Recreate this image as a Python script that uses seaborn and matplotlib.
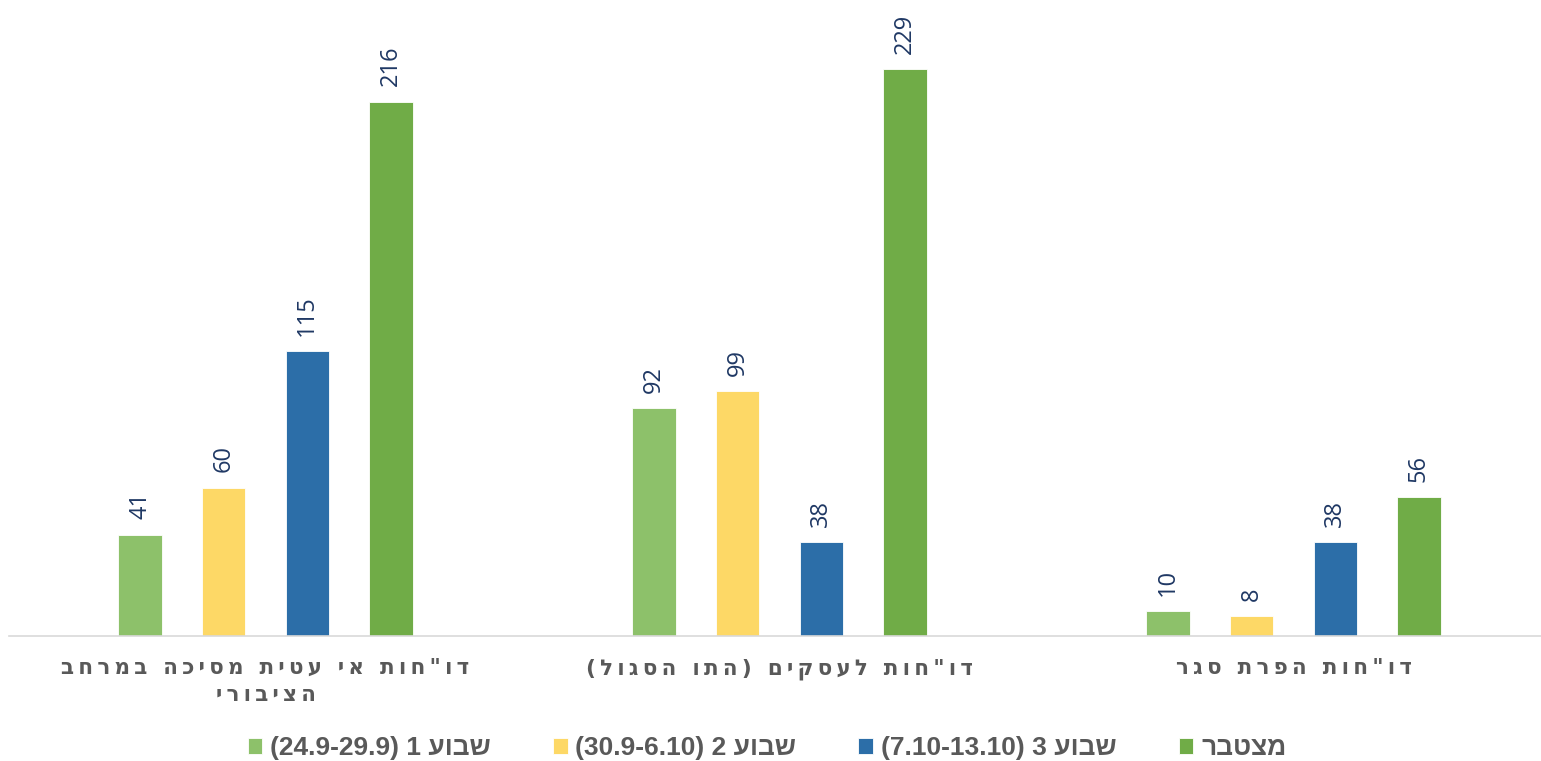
import re
import matplotlib
matplotlib.use('Agg')
import matplotlib.pyplot as plt
import pandas as pd
import seaborn as sns

categories = ['דו"חות אי עטית מסיכה במרחב\nהציבורי', 'דו"חות לעסקים (התו הסגול)', 'דו"חות הפרת סגר']
series = ['שבוע 1 (24.9-29.9)', 'שבוע 2 (30.9-6.10)', 'שבוע 3 (7.10-13.10)', 'מצטבר']
week1 = [41, 92, 10]
week2 = [60, 99, 8]
week3 = [115, 38, 38]
total = [216, 229, 56]
colors = ['#8DC16A', '#FDD866', '#2C6EA8', '#70AC47']


def visual(s):
    # matplotlib has no bidi support, flip the hebrew lines by hand
    out = []
    for line in s.split('\n'):
        r = line[::-1]
        r = re.sub(r'[0-9.\-]+', lambda m: m.group(0)[::-1], r)
        r = r.translate(str.maketrans('()', ')('))
        out.append(r)
    return '\n'.join(out)


def spaced(s):
    # excel style character spacing, thin spaces between letters
    out = []
    for line in s.split('\n'):
        out.append('\u2009'.join(line))
    return '\n'.join(out)


rows = []
for name, vals in zip(series, [week1, week2, week3, total]):
    for cat, v in zip(categories, vals):
        rows.append({'cat': cat, 'series': name, 'value': v})
df = pd.DataFrame(rows)

sns.set_style('white')
plt.rcParams['font.family'] = ['Open Sans', 'DejaVu Sans']

fig = plt.figure(figsize=(15.41, 7.61), dpi=100)
ax = fig.add_axes([8.5 / 1541, 1 - 636 / 761, 1542 / 1541, 626 / 761])

sns.barplot(data=df, x='cat', y='value', hue='series', order=categories, hue_order=series,
            palette=colors, saturation=1, width=0.65, gap=0.48, edgecolor='white', linewidth=0.6, ax=ax)

for cont in ax.containers:
    ax.bar_label(cont, rotation=90, padding=11, color='#1F3864', fontsize=17)

ax.set_ylim(0, 253)
ax.set_xlim(-0.5, 2.5)
ax.set_xlabel('')
ax.set_ylabel('')
ax.set_yticks([])
ax.set_xticks(range(len(categories)))
ax.set_xticklabels([visual(spaced(c)) for c in categories], fontsize=15.5, fontweight='bold',
                   color='#595959', family=['DejaVu Sans'], linespacing=1.45)
ax.tick_params(axis='x', length=0, pad=16)
for side in ['top', 'left', 'right']:
    ax.spines[side].set_visible(False)
ax.spines['bottom'].set_color('#D9D9D9')
ax.spines['bottom'].set_linewidth(1.2)

handles, labels = ax.get_legend_handles_labels()
ax.legend_.remove()
fig.legend(handles, [visual(s) for s in series], loc='center', bbox_to_anchor=(767 / 1541, 1 - 748 / 761),
           ncol=4, frameon=False, handlelength=0.55, handleheight=0.55, handletextpad=0.3,
           columnspacing=2.35, prop={'family': ['Liberation Sans', 'DejaVu Sans'],
                                     'weight': 'bold', 'size': 19})
for t in fig.legends[0].get_texts():
    t.set_color('#595959')

fig.savefig('out.png', dpi=100)
